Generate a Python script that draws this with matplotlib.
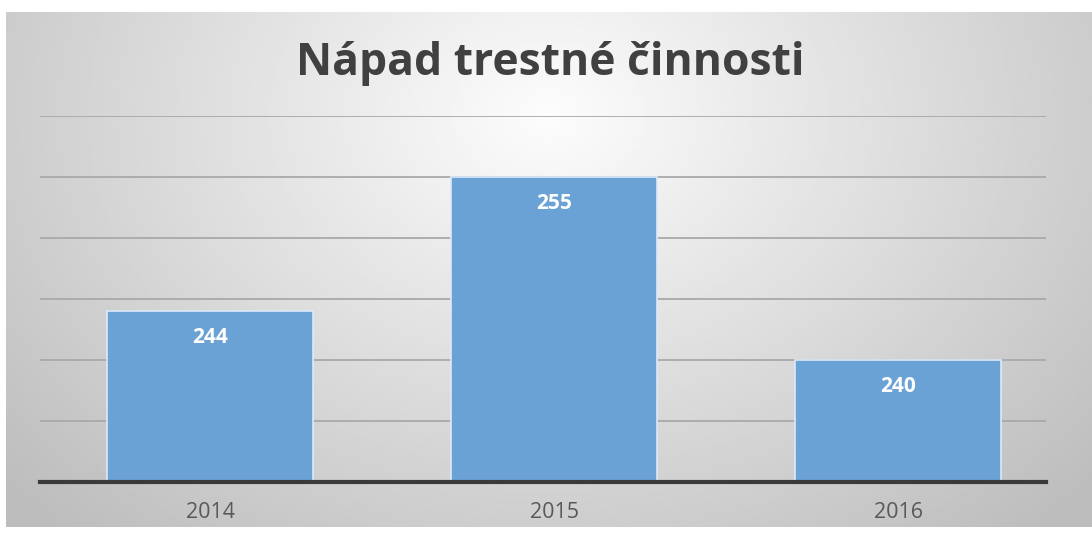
import numpy as np
import matplotlib
matplotlib.use("Agg")
import matplotlib.pyplot as plt

# data
years = ["2014", "2015", "2016"]
crimes = [244, 255, 240]
title = "Nápad trestné činnosti"

plt.rcParams["font.family"] = ["Open Sans", "DejaVu Sans"]

W, H = 1092, 534
fig = plt.figure(figsize=(W / 100, H / 100), dpi=100)
fig.patch.set_facecolor("white")

# radial gradient background of the chart frame
bg = fig.add_axes([6 / W, 7 / H, (W - 6) / W, (527 - 12) / H])
gx, gy = np.meshgrid(np.linspace(0, 1, 400), np.linspace(0, 1, 200))
r = np.sqrt(((gx - 0.5) / 0.62) ** 2 + ((gy - 0.2) / 1.0) ** 2)
shade = np.clip(0.99 - 0.23 * r, 0.74, 1.0)
bg.imshow(shade, cmap="gray", vmin=0, vmax=1, aspect="auto",
          extent=[0, 1, 0, 1], origin="upper")
bg.axis("off")

# plot area
ax = fig.add_axes([40 / W, (H - 482) / H, (1046 - 40) / W, (482 - 116) / H])
ax.set_facecolor("none")
x = np.arange(len(years))
bars = ax.bar(x, crimes, width=0.6, color="#6aa2d5",
              edgecolor="#dceafa", linewidth=1.2, zorder=3)
ax.set_xlim(-0.495, 2.43)
ax.set_ylim(230, 260)
ax.set_yticks(np.arange(235, 261, 5))
ax.yaxis.grid(True, color="#a9a9a9", linewidth=1.3, zorder=0)
ax.set_axisbelow(True)
ax.tick_params(axis="y", left=False, labelleft=False)
ax.set_xticks(x)
ax.set_xticklabels(years)
ax.tick_params(axis="x", length=0, pad=14.5, labelsize=15.5, labelcolor="#595959")
for s in ["top", "right", "left"]:
    ax.spines[s].set_visible(False)
ax.spines["bottom"].set_color("#3a3a3a")
ax.spines["bottom"].set_linewidth(3)
ax.spines["bottom"].set_zorder(4)

for xi, v in zip(x, crimes):
    ax.annotate(str(v), (xi, v), xytext=(0, -19), textcoords="offset points",
                ha="center", va="center", color="white", fontsize=15,
                fontweight="bold", zorder=5)

fig.text(550 / W, 1 - 64 / H, title, ha="center", va="center",
         fontsize=32, fontweight="bold", color="#404040")

fig.savefig("out.png", dpi=100)
